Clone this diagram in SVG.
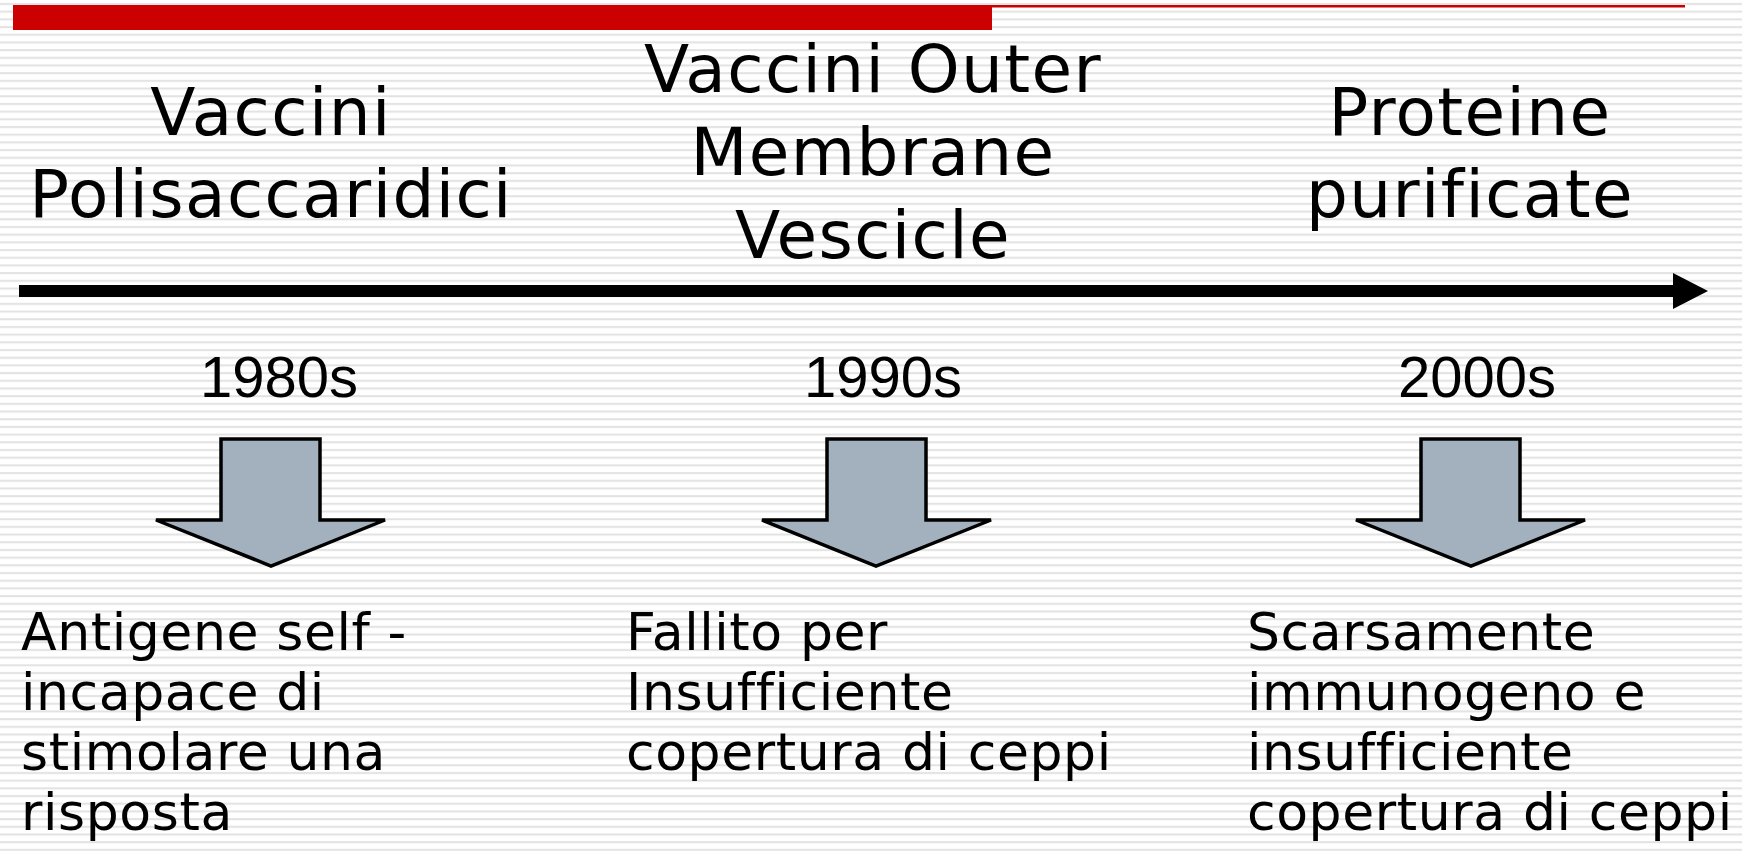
<svg xmlns="http://www.w3.org/2000/svg" width="1742" height="851" viewBox="0 0 1742 851">
<defs>
<pattern id="stripes" patternUnits="userSpaceOnUse" x="0" y="0" width="20" height="7.69">
<rect x="0" y="0" width="20" height="7.69" fill="#ffffff"/>
<rect x="0" y="3" width="20" height="2" fill="#e2e2e2"/>
</pattern>
<marker id="head" markerUnits="userSpaceOnUse" markerWidth="36" markerHeight="36" refX="1" refY="18" orient="auto">
<path d="M0,0 L35,18 L0,36 Z" fill="#000"/>
</marker>
<style>
.title{font-family:"DejaVu Sans",Verdana,sans-serif;font-size:66px;letter-spacing:1.4px;fill:#000;text-anchor:middle}
.year{font-family:"Liberation Sans",Arial,sans-serif;font-size:58px;fill:#000;text-anchor:middle}
.body{font-family:"DejaVu Sans",Verdana,sans-serif;font-size:52px;letter-spacing:0.6px;fill:#000}
.down{fill:#A3B1BF;stroke:#000;stroke-width:3.5;stroke-linejoin:miter}
</style>
</defs>
<rect width="1742" height="851" fill="url(#stripes)"/>
<g id="topbar">
<rect x="13" y="5" width="979" height="25" fill="#CC0000"/>
<rect x="992" y="5" width="693" height="2.5" fill="#CC0000"/>
</g>
<g id="connectors">
<path d="M19,291 L1674,291" stroke="#000" stroke-width="12" fill="none" marker-end="url(#head)"/>
</g>
<g id="node-1980s">
<text class="title" x="271" y="135">Vaccini</text>
<text class="title" x="271" y="217">Polisaccaridici</text>
<text class="year" x="279" y="397">1980s</text>
<polygon class="down" points="221,439 320,439 320,520 385,520 271,566 156,520 221,520"/>
<text class="body" x="21" y="650">Antigene self -</text>
<text class="body" x="21" y="710">incapace di</text>
<text class="body" x="21" y="770">stimolare una</text>
<text class="body" x="21" y="830">risposta</text>
</g>
<g id="node-1990s">
<text class="title" x="873" y="92">Vaccini Outer</text>
<text class="title" x="873" y="175">Membrane</text>
<text class="title" x="873" y="258">Vescicle</text>
<text class="year" x="883" y="397">1990s</text>
<polygon class="down" points="827,439 926,439 926,520 991,520 876,566 762,520 827,520"/>
<text class="body" x="626" y="650">Fallito per</text>
<text class="body" x="626" y="710">Insufficiente</text>
<text class="body" x="626" y="770">copertura di ceppi</text>
</g>
<g id="node-2000s">
<text class="title" x="1470" y="135">Proteine</text>
<text class="title" x="1470" y="217">purificate</text>
<text class="year" x="1477" y="397">2000s</text>
<polygon class="down" points="1421,439 1520,439 1520,520 1585,520 1471,566 1356,520 1421,520"/>
<text class="body" x="1247" y="650">Scarsamente</text>
<text class="body" x="1247" y="710">immunogeno e</text>
<text class="body" x="1247" y="770">insufficiente</text>
<text class="body" x="1247" y="830">copertura di ceppi</text>
</g>
</svg>
